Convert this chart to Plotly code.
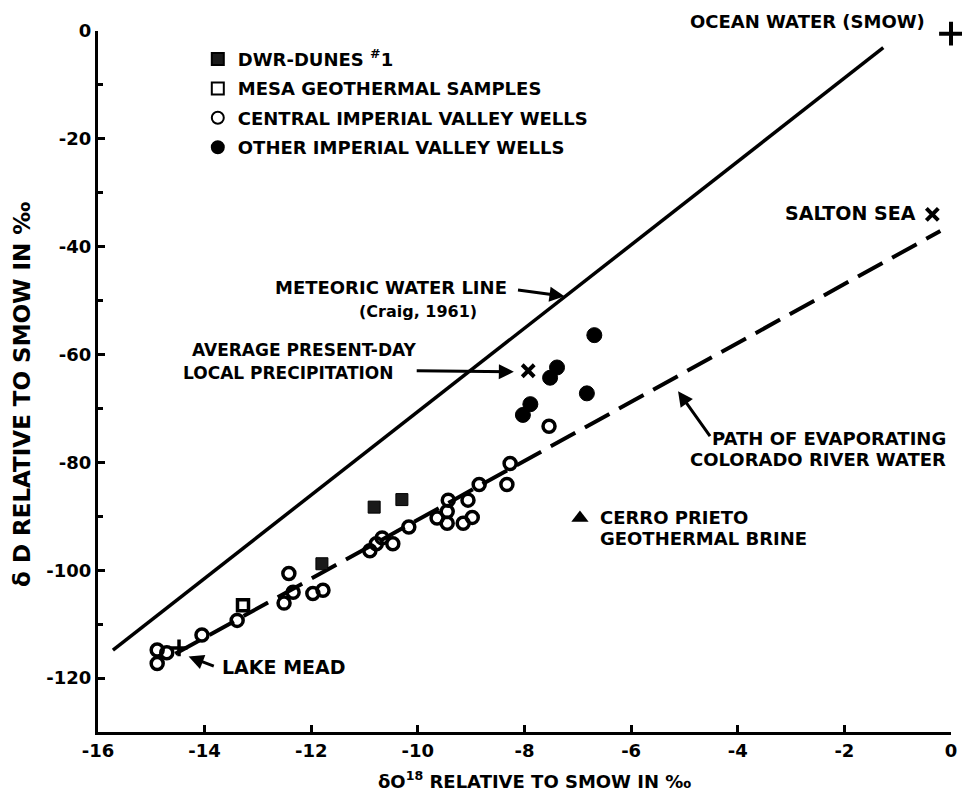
import plotly.graph_objects as go

# ---------------- data ----------------
central_x = [-14.89, -14.71, -14.89, -14.05, -13.39, -12.42, -12.34, -12.51, -11.97, -11.78,
             -10.90, -10.78, -10.67, -10.47, -10.17, -9.64, -9.43, -9.45, -9.45, -9.06,
             -9.15, -8.98, -8.85, -8.27, -8.33, -7.54]
central_y = [-114.8, -115.3, -117.3, -112.0, -109.3, -100.6, -104.1, -106.1, -104.3, -103.7,
             -96.4, -95.1, -94.0, -95.1, -92.0, -90.3, -87.0, -89.1, -91.3, -87.0,
             -91.3, -90.2, -84.1, -80.2, -84.1, -73.3]

dwr_x = [-11.80, -10.82, -10.30]
dwr_y = [-98.8, -88.3, -86.9]

mesa_x = [-13.28]
mesa_y = [-106.5]

other_x = [-6.69, -7.39, -7.52, -6.83, -7.89, -8.03]
other_y = [-56.4, -62.4, -64.3, -67.2, -69.2, -71.2]

meteoric_x = [-15.72, -1.27]
meteoric_y = [-114.8, -3.1]

evap_x = [-14.55, -0.20]
evap_y = [-115.5, -37.1]

precip_x, precip_y = [-7.93], [-63.0]
salton_x, salton_y = [-0.35], [-34.0]
smow_x, smow_y = [0.0], [-0.5]
cerro_x, cerro_y = [-6.96], [-90.3]
mead_x, mead_y = [-14.48], [-114.4]

legend_names = ["DWR-DUNES <sup>#</sup>1", "MESA GEOTHERMAL SAMPLES",
                "CENTRAL IMPERIAL VALLEY WELLS", "OTHER IMPERIAL VALLEY WELLS"]

x_ticks = [-16, -14, -12, -10, -8, -6, -4, -2, 0]
y_ticks = [0, -20, -40, -60, -80, -100, -120]

FONT = "DejaVu Sans"
BLACK = "#000000"

fig = go.Figure()

# lines
fig.add_trace(go.Scatter(x=meteoric_x, y=meteoric_y, mode="lines",
                         line=dict(color=BLACK, width=3.5), showlegend=False, hoverinfo="skip"))
fig.add_trace(go.Scatter(x=evap_x, y=evap_y, mode="lines",
                         line=dict(color=BLACK, width=4, dash="28px,11px"),
                         showlegend=False, hoverinfo="skip"))

# legend series
fig.add_trace(go.Scatter(x=dwr_x, y=dwr_y, mode="markers", name="<b>" + legend_names[0] + "</b>",
                         legendgroup="a",
                         marker=dict(symbol="square", size=12, color="#1a1a1a",
                                     line=dict(color=BLACK, width=1))))
fig.add_trace(go.Scatter(x=mesa_x, y=mesa_y, mode="markers", name="<b>" + legend_names[1] + "</b>",
                         legendgroup="b",
                         marker=dict(symbol="square-open", size=11, color=BLACK,
                                     line=dict(color=BLACK, width=3.5))))
fig.add_trace(go.Scatter(x=central_x, y=central_y, mode="markers", name="<b>" + legend_names[2] + "</b>",
                         legendgroup="c",
                         marker=dict(symbol="circle-open", size=12, color=BLACK,
                                     line=dict(color=BLACK, width=3.5))))
fig.add_trace(go.Scatter(x=other_x, y=other_y, mode="markers", name="<b>" + legend_names[3] + "</b>",
                         legendgroup="d",
                         marker=dict(symbol="circle", size=15, color=BLACK,
                                     line=dict(color=BLACK, width=1))))

# special points
fig.add_trace(go.Scatter(x=precip_x, y=precip_y, mode="markers", showlegend=False,
                         marker=dict(symbol="x-thin", size=12, line=dict(color=BLACK, width=4))))
fig.add_trace(go.Scatter(x=salton_x, y=salton_y, mode="markers", showlegend=False,
                         marker=dict(symbol="x-thin", size=12, line=dict(color=BLACK, width=4))))
fig.add_trace(go.Scatter(x=smow_x, y=smow_y, mode="markers", showlegend=False, cliponaxis=False,
                         marker=dict(symbol="cross-thin", size=17, line=dict(color=BLACK, width=4))))
fig.add_trace(go.Scatter(x=cerro_x, y=cerro_y, mode="markers", showlegend=False,
                         marker=dict(symbol="triangle-up", size=15, color=BLACK)))
fig.add_trace(go.Scatter(x=mead_x, y=mead_y, mode="markers", showlegend=False,
                         marker=dict(symbol="cross-thin", size=12, line=dict(color=BLACK, width=3.5))))

ann = []

def txt(x, y, s, xanchor="center", size=18, yref="y"):
    ann.append(dict(x=x, y=y, xref="x", yref=yref, text="<b>" + s + "</b>", showarrow=False,
                    xanchor=xanchor, yanchor="middle", font=dict(family=FONT, size=size, color=BLACK)))

def arrow(x0, y0, x1, y1):
    ann.append(dict(x=x1, y=y1, ax=x0, ay=y0, xref="x", yref="y", axref="x", ayref="y",
                    text="", showarrow=True, arrowhead=2, arrowsize=1.0, arrowwidth=3,
                    arrowcolor=BLACK))

txt(-8.3, -47.6, "METEORIC WATER LINE", xanchor="right")
txt(-10.0, -52.0, "(Craig, 1961)", size=16)
arrow(-8.15, -48.0, -7.25, -49.2)
txt(-12.12, -59.2, "AVERAGE PRESENT-DAY", size=17)
txt(-12.42, -63.5, "LOCAL PRECIPITATION", size=17)
arrow(-10.05, -63.0, -8.2, -63.2)
txt(-0.05, -75.6, "PATH OF EVAPORATING", xanchor="right")
txt(-0.05, -79.5, "COLORADO RIVER WATER", xanchor="right")
arrow(-4.5, -75.4, -5.12, -66.8)
txt(-6.62, -90.2, "CERRO PRIETO", xanchor="left")
txt(-6.62, -94.1, "GEOTHERMAL BRINE", xanchor="left")
txt(-13.72, -118.0, "LAKE MEAD", xanchor="left", size=19)
arrow(-13.8, -117.9, -14.3, -116.0)
txt(-0.62, -33.7, "SALTON SEA", xanchor="right", size=19)
txt(-0.45, 1.014, "OCEAN WATER (SMOW)", xanchor="right", yref="paper")

# axis titles
ann.append(dict(x=0.512, y=-0.068, xref="paper", yref="paper", showarrow=False,
                text="<b>δO<sup>18</sup> RELATIVE TO SMOW IN ‰</b>",
                xanchor="center", yanchor="middle",
                font=dict(family=FONT, size=18, color=BLACK)))
ann.append(dict(x=-0.089, y=0.481, xref="paper", yref="paper", showarrow=False,
                text="<b>δ D RELATIVE TO SMOW IN ‰</b>", textangle=-90,
                xanchor="center", yanchor="middle",
                font=dict(family=FONT, size=23, color=BLACK)))

# the page body adds an 8px margin; size the figure so that the plot area lands where the reference has it
fig.update_layout(
    width=962, height=793,
    margin=dict(l=90, r=19, t=17, b=69),
    paper_bgcolor="white", plot_bgcolor="white",
    font=dict(family=FONT, color=BLACK),
    showlegend=True,
    legend=dict(x=0.117, y=0.986, xanchor="left", yanchor="top",
                bgcolor="rgba(0,0,0,0)", borderwidth=0,
                font=dict(family=FONT, size=18, color=BLACK),
                tracegroupgap=3, itemsizing="constant", traceorder="grouped"),
    annotations=ann,
)

fig.update_xaxes(range=[-16, 0], tickvals=x_ticks, ticktext=["<b>%d</b>" % v for v in x_ticks],
                 showgrid=False, zeroline=False, showline=True, linecolor=BLACK, linewidth=3,
                 ticks="inside", ticklen=7, tickwidth=2.5, tickcolor=BLACK,
                 tickfont=dict(family=FONT, size=18, color=BLACK))
fig.update_yaxes(range=[-130, 0], tickvals=y_ticks, ticktext=["<b>%d</b>" % v for v in y_ticks],
                 showgrid=False, zeroline=False, showline=True, linecolor=BLACK, linewidth=3,
                 ticks="inside", ticklen=7, tickwidth=2.5, tickcolor=BLACK,
                 tickfont=dict(family=FONT, size=18, color=BLACK),
                 minor=dict(tickvals=[-10, -30, -50, -70, -90, -110], ticks="inside",
                            ticklen=5, tickwidth=2.5, tickcolor=BLACK))

fig.write_html("out.html")
